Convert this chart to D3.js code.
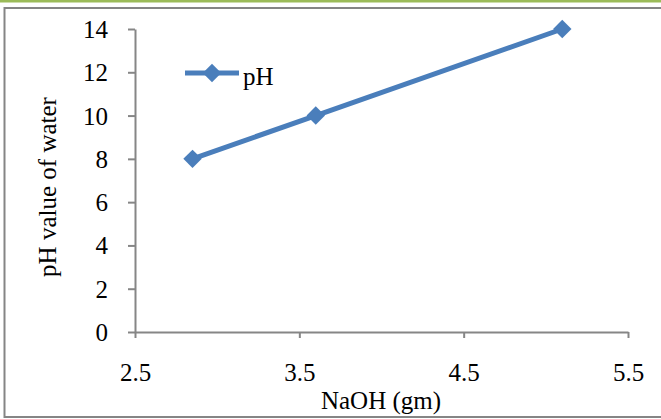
<!DOCTYPE html>
<html>
<head>
<meta charset="utf-8">
<script src="https://cdn.jsdelivr.net/npm/d3@7"></script>
<style>
  body { margin: 0; background: #fff; }
  svg text { font-family: "Liberation Serif", "Times New Roman", serif; fill: #000; }
</style>
</head>
<body>
<svg width="661" height="419"></svg>
<script>
// data
var naoh = [2.85, 3.6, 5.1];
var ph = [8, 10, 14];
var xTicks = [2.5, 3.5, 4.5, 5.5];
var yTicks = [0, 2, 4, 6, 8, 10, 12, 14];
var seriesName = "pH";

var serif = '"Liberation Serif", "Times New Roman", serif';
var svg = d3.select("svg");

// outer frame + green strip at the top
svg.append("rect").attr("x", 0).attr("y", 0).attr("width", 661).attr("height", 2.5).attr("fill", "#9bbb59");
svg.append("rect")
    .attr("x", 4.5).attr("y", 8).attr("width", 670).attr("height", 409)
    .attr("fill", "none").attr("stroke", "#858585").attr("stroke-width", 2);

var x = d3.scaleLinear().domain([2.5, 5.5]).range([135, 628]);
var y = d3.scaleLinear().domain([0, 14]).range([332, 29]);

var gx = svg.append("g")
    .attr("transform", "translate(0," + y(0) + ")")
    .call(d3.axisBottom(x).tickValues(xTicks).tickSizeInner(6).tickSizeOuter(0).tickPadding(25).tickFormat(d3.format(".1f")));

var gy = svg.append("g")
    .attr("transform", "translate(" + x(2.5) + ",0)")
    .call(d3.axisLeft(y).tickValues(yTicks).tickSizeInner(7).tickSizeOuter(0).tickPadding(20));

[gx, gy].forEach(function(g){
    g.attr("font-family", serif).attr("font-size", 25);
    g.selectAll("path, line").attr("stroke", "#868686").attr("stroke-width", 2);
    g.selectAll("text").style("font-family", serif).style("font-size", "25px").attr("fill", "#000");
});
gy.selectAll("text").attr("dy", "0.34em");

// axis titles
svg.append("text")
    .attr("x", 381).attr("y", 409)
    .attr("text-anchor", "middle").style("font-size", "25px")
    .text("NaOH (gm)");

svg.append("text")
    .attr("transform", "translate(56,187) rotate(-90)")
    .attr("text-anchor", "middle").style("font-size", "25px")
    .text("pH value of water");

// series
var pts = naoh.map(function(d, i){ return [d, ph[i]]; });
var line = d3.line().x(function(d){ return x(d[0]); }).y(function(d){ return y(d[1]); });

svg.append("path")
    .datum(pts)
    .attr("d", line)
    .attr("fill", "none")
    .attr("stroke", "#4a7ebb")
    .attr("stroke-width", 5)
    .attr("stroke-linejoin", "round");

var diamond = d3.symbol().type(d3.symbolSquare).size(170);

svg.selectAll(".pt")
    .data(pts)
    .enter().append("path")
    .attr("class", "pt")
    .attr("d", diamond)
    .attr("fill", "#4a7ebb")
    .attr("transform", function(d){ return "translate(" + x(d[0]) + "," + y(d[1]) + ") rotate(45)"; });

// legend
var lg = svg.append("g").attr("transform", "translate(185,73)");
lg.append("line").attr("x1", 0).attr("x2", 54).attr("y1", 0).attr("y2", 0)
    .attr("stroke", "#4a7ebb").attr("stroke-width", 5);
lg.append("path").attr("d", diamond).attr("fill", "#4a7ebb")
    .attr("transform", "translate(27,0) rotate(45)");
lg.append("text").attr("x", 58).attr("y", 12).style("font-size", "25px").text(seriesName);
</script>
</body>
</html>
